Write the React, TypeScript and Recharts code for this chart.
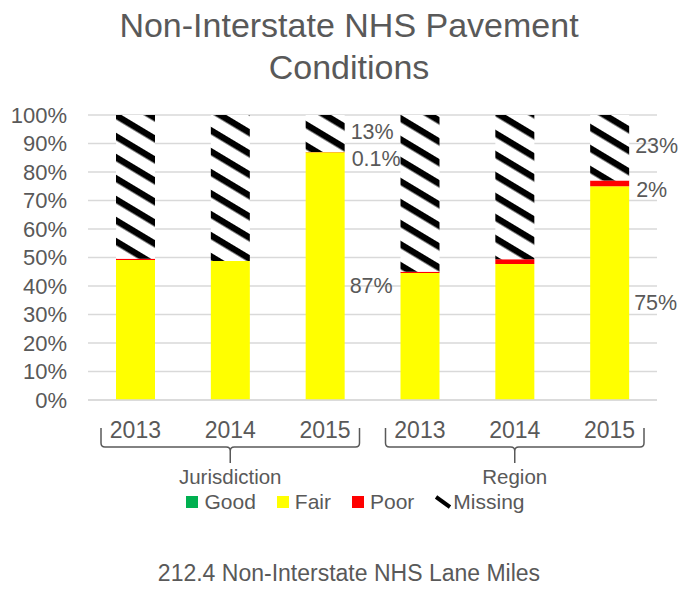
import React from 'react';
import { BarChart, Bar, XAxis, YAxis, CartesianGrid, LabelList, Legend } from 'recharts';

const categories = ['2013', '2014', '2015', '2013', '2014', '2015'];
const groups = ['Jurisdiction', 'Jurisdiction', 'Jurisdiction', 'Region', 'Region', 'Region'];
const goodValues = [0, 0, 0, 0, 0, 0];
const fairValues = [49.1, 48.8, 86.9, 44.6, 47.7, 75];
const poorValues = [0.5, 0, 0.1, 0.4, 1.7, 2];
const missingValues = [50.4, 51.2, 13, 55, 50.6, 23];
const fairLabels = ['', '', '87%', '', '', '75%'];
const poorLabels = ['', '', '0.1%', '', '', '2%'];
const missingLabels = ['', '', '13%', '', '', '23%'];
const yTicks = [0, 10, 20, 30, 40, 50, 60, 70, 80, 90, 100];
const seriesNames = ['Good', 'Fair', 'Poor', 'Missing'];

const data = categories.map((c, i) => ({
  key: i,
  year: c,
  group: groups[i],
  Good: goodValues[i],
  Fair: fairValues[i],
  Poor: poorValues[i],
  Missing: missingValues[i],
  fairLabel: fairLabels[i],
  poorLabel: poorLabels[i],
  missingLabel: missingLabels[i],
}));

const FONT = "'Liberation Sans', Arial, sans-serif";
const TEXT = '#595959';
const W = 686;
const H = 592;
const M = { top: 115, right: 29, left: 8, bottom: 92 };
const Y_W = 80;
const PLOT_L = M.left + Y_W;
const PLOT_R = W - M.right;
const BAND = (PLOT_R - PLOT_L) / categories.length;

const makeLabel = (dy: number, dx: number) => (props: any) => {
  const { x, y, width, height, value } = props;
  if (!value) return null;
  return (
    <text
      x={Number(x) + Number(width) + dx}
      y={Number(y) + Number(height) / 2 + dy}
      dominantBaseline="central"
      fontSize={21.5}
      fill={TEXT}
      fontFamily={FONT}
    >
      {value}
    </text>
  );
};

const CategoryTick = (props: any) => {
  const { x, y, payload, index } = props;
  const i = typeof index === 'number' ? index : payload.index;
  const els: any[] = [];
  els.push(
    <text key="t" x={x} y={y + 38} textAnchor="middle" fontSize={23} fill={TEXT} fontFamily={FONT}>
      {payload.value}
    </text>
  );
  if (i === 0 || groups[i] !== groups[i - 1]) {
    let n = 0;
    while (i + n < groups.length && groups[i + n] === groups[i]) n++;
    const start = x - BAND / 2;
    const L = start + 13;
    const R = start + n * BAND - 13;
    const mid = start + (n * BAND) / 2;
    const top = y + 28;
    const hy = y + 47;
    const bot = y + 63;
    const r = 4;
    const d = `M${L},${top} L${L},${hy - r} Q${L},${hy} ${L + r},${hy} L${mid - r},${hy} Q${mid},${hy} ${mid},${hy + r} L${mid},${bot} M${mid},${hy + r} Q${mid},${hy} ${mid + r},${hy} L${R - r},${hy} Q${R},${hy} ${R},${hy - r} L${R},${top}`;
    els.push(<path key="b" d={d} fill="none" stroke={TEXT} strokeWidth={1.5} />);
    els.push(
      <text key="g" x={mid} y={y + 84} textAnchor="middle" fontSize={20.5} fill={TEXT} fontFamily={FONT}>
        {groups[i]}
      </text>
    );
  }
  return <g>{els}</g>;
};

const legendColors: Record<string, string> = { Good: '#00B050', Fair: '#FFFF00', Poor: '#FF0000' };

const LegendContent = () => (
  <div style={{ display: 'flex', justifyContent: 'center', alignItems: 'center', fontFamily: FONT, fontSize: 21, color: TEXT, marginLeft: 46 }}>
    {seriesNames.map((name) => (
      <div key={name} style={{ display: 'flex', alignItems: 'center', marginRight: 21 }}>
        {name === 'Missing' ? (
          <svg width={16} height={14} style={{ marginRight: 2 }}>
            <line x1={1} y1={2} x2={15} y2={12} stroke="#000" strokeWidth={4} />
          </svg>
        ) : (
          <div style={{ width: 12, height: 12, background: legendColors[name], marginRight: 6 }} />
        )}
        <span>{name}</span>
      </div>
    ))}
  </div>
);

export default function App() {
  return (
    <div style={{ position: 'absolute', left: 0, top: 0, width: W, height: H, background: '#fff', fontFamily: FONT }}>
      <div style={{ position: 'absolute', left: 0, top: 4, width: 698, textAlign: 'center', fontSize: 34, lineHeight: '42px', color: TEXT }}>
        Non-Interstate NHS Pavement
        <br />
        Conditions
      </div>
      <BarChart width={W} height={H} data={data} margin={M} barSize={39}>
        <defs>
          <pattern id="missingPattern" patternUnits="userSpaceOnUse" width={20} height={18} patternTransform="rotate(31)">
            <rect x={0} y={0} width={20} height={18} fill="#fff" />
            <rect x={0} y={0} width={20} height={6.5} fill="#000" />
          </pattern>
        </defs>
        <CartesianGrid vertical={false} stroke="#d9d9d9" strokeWidth={1.5} />
        <XAxis
          dataKey="key"
          tickFormatter={(v: any) => categories[v]}
          tick={(p: any) => <CategoryTick {...p} payload={{ ...p.payload, value: categories[p.payload.value] }} />}
          interval={0}
          tickLine={false}
          tickSize={0}
          tickMargin={0}
          axisLine={{ stroke: '#d9d9d9', strokeWidth: 1.5 }}
          height={100}
        />
        <YAxis
          width={Y_W}
          domain={[0, 100]}
          ticks={yTicks}
          interval={0}
          tickFormatter={(v: number) => `${v}%`}
          axisLine={false}
          tickLine={false}
          tickSize={0}
          tickMargin={21}
          tick={{ fontSize: 22, fill: TEXT, fontFamily: FONT }}
        />
        <Legend verticalAlign="middle" align="center" layout="horizontal" content={<LegendContent />} wrapperStyle={{ top: 490, left: 0, width: W }} />
        <Bar dataKey="Good" stackId="s" fill="#00B050" isAnimationActive={false} />
        <Bar dataKey="Fair" stackId="s" fill="#FFFF00" isAnimationActive={false}>
          <LabelList dataKey="fairLabel" content={makeLabel(10, 5)} />
        </Bar>
        <Bar dataKey="Poor" stackId="s" fill="#FF0000" isAnimationActive={false}>
          <LabelList dataKey="poorLabel" content={makeLabel(7, 7)} />
        </Bar>
        <Bar dataKey="Missing" stackId="s" fill="url(#missingPattern)" isAnimationActive={false}>
          <LabelList dataKey="missingLabel" content={makeLabel(-2, 6)} />
        </Bar>
      </BarChart>
      <div style={{ position: 'absolute', left: 0, top: 560, width: 698, textAlign: 'center', fontSize: 23, color: TEXT }}>
        212.4 Non-Interstate NHS Lane Miles
      </div>
    </div>
  );
}
